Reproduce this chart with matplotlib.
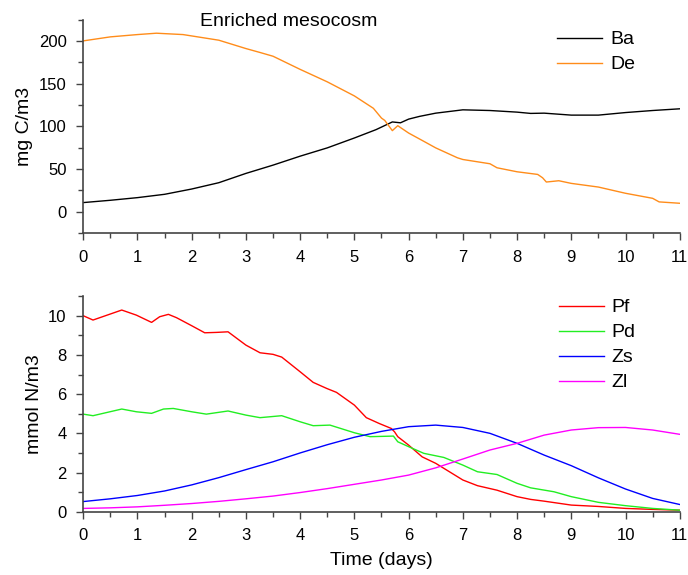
import matplotlib
matplotlib.use("Agg")
import matplotlib.pyplot as plt
from matplotlib.ticker import MultipleLocator

plt.rcParams['font.family'] = ['Liberation Sans', 'DejaVu Sans']

# ---- data (top panel, mg C/m3) ----
t_ba = [0, 0.5, 1, 1.5, 2, 2.5, 3, 3.5, 4, 4.5, 5, 5.4, 5.7, 5.85, 6, 6.2, 6.5,
        7, 7.5, 8, 8.25, 8.5, 9, 9.5, 10, 10.5, 11]
ba = [10.5, 13.2, 16.3, 20.2, 26.4, 33.8, 44.7, 54.4, 64.9, 74.6, 86.2, 96, 105,
      104, 108.3, 111.5, 115.3, 119.2, 118.4, 116.5, 115, 115.3, 113, 113, 116,
      118.4, 120.4]
t_de = [0, 0.5, 1, 1.35, 1.5, 1.84, 2, 2.5, 3, 3.26, 3.5, 4, 4.5, 5, 5.35, 5.5,
        5.56, 5.7, 5.8, 6, 6.28, 6.5, 6.9, 7, 7.5, 7.63, 8, 8.38, 8.47, 8.54,
        8.77, 9, 9.5, 10, 10.5, 10.62, 11]
de = [200, 204.7, 207.4, 209, 208.5, 207.4, 205.8, 200.8, 191, 186.4, 182,
      166.6, 152, 135.5, 121, 109.5, 106.8, 94.8, 100.6, 92, 82.3, 74.6, 63, 61,
      56, 51.3, 46.6, 43.5, 39.6, 34.6, 36.1, 33, 28.7, 21.4, 15.5, 11.3, 9.7]

# ---- data (bottom panel, mmol N/m3) ----
t_pf = [0, 0.18, 0.71, 0.98, 1.26, 1.41, 1.57, 1.72, 2, 2.24, 2.46, 2.67, 3,
        3.26, 3.5, 3.66, 4, 4.24, 4.49, 4.67, 5, 5.22, 5.46, 5.68, 5.74, 5.8, 6,
        6.25, 6.5, 6.7, 7, 7.27, 7.63, 8, 8.25, 8.5, 9, 9.5, 10, 10.5, 11]
pf = [10, 9.78, 10.29, 10.03, 9.66, 9.95, 10.07, 9.9, 9.49, 9.13, 9.15, 9.18,
      8.5, 8.11, 8.03, 7.89, 7.14, 6.6, 6.29, 6.09, 5.44, 4.8, 4.5, 4.25, 4.08,
      3.83, 3.4, 2.8, 2.47, 2.13, 1.62, 1.33, 1.1, 0.77, 0.63, 0.54, 0.34, 0.27,
      0.17, 0.12, 0.08]
t_pd = [0, 0.18, 0.71, 0.98, 1.26, 1.48, 1.66, 2, 2.27, 2.67, 3, 3.26, 3.66, 4,
        4.24, 4.55, 5, 5.29, 5.72, 5.8, 6, 6.28, 6.65, 7, 7.27, 7.63, 8, 8.25,
        8.68, 9, 9.5, 10, 10.5, 11]
pd_ = [4.98, 4.9, 5.24, 5.1, 5.02, 5.24, 5.27, 5.1, 4.98, 5.14, 4.93, 4.8, 4.9,
       4.59, 4.39, 4.42, 4.03, 3.83, 3.86, 3.57, 3.32, 2.98, 2.77, 2.38, 2.04,
       1.9, 1.45, 1.22, 1.02, 0.77, 0.48, 0.31, 0.17, 0.08]
t_zs = [0, 0.5, 1, 1.5, 2, 2.5, 3, 3.5, 4, 4.5, 5, 5.5, 6, 6.5, 7, 7.5, 8, 8.5,
        9, 9.5, 10, 10.5, 11]
zs = [0.52, 0.66, 0.83, 1.06, 1.37, 1.74, 2.15, 2.55, 3.0, 3.42, 3.8, 4.1, 4.34,
      4.42, 4.3, 4.0, 3.49, 2.89, 2.35, 1.73, 1.16, 0.68, 0.37]
t_zl = [0, 0.5, 1, 1.5, 2, 2.5, 3, 3.5, 4, 4.5, 5, 5.5, 6, 6.5, 7, 7.5, 8, 8.5,
        9, 9.5, 10, 10.5, 11]
zl = [0.17, 0.2, 0.25, 0.33, 0.42, 0.53, 0.66, 0.8, 0.98, 1.18, 1.4, 1.62, 1.87,
      2.24, 2.69, 3.15, 3.49, 3.91, 4.17, 4.29, 4.3, 4.17, 3.95]

xticks = list(range(0, 12))

fig = plt.figure(figsize=(6.88, 5.75), dpi=100)
ax1 = fig.add_axes([0.121, 0.595, 0.867, 0.371])
ax2 = fig.add_axes([0.121, 0.110, 0.867, 0.375])

spine_col = '#444444'
for ax in (ax1, ax2):
    for s in ('top', 'right'):
        ax.spines[s].set_visible(False)
    for s in ('left', 'bottom'):
        ax.spines[s].set_color(spine_col)
        ax.spines[s].set_linewidth(1.2)
    ax.set_xlim(0, 11)
    ax.set_xticks(xticks)
    ax.xaxis.set_minor_locator(MultipleLocator(0.5))
    ax.tick_params(which='major', direction='out', length=5, width=1,
                   color=spine_col, labelsize=12, pad=7)
    ax.tick_params(which='minor', direction='out', length=3.5, width=1,
                   color=spine_col)

lw = 1.0
ax1.plot(t_ba, ba, color='black', lw=lw, label='Ba')
ax1.plot(t_de, de, color='#ff8c1a', lw=lw, label='De')
ax1.set_ylim(-25, 225)
ax1.set_yticks([0, 50, 100, 150, 200])
ax1.yaxis.set_minor_locator(MultipleLocator(25))
ax1.set_ylabel('mg C/m3', fontsize=14)

ax2.plot(t_pf, pf, color='#ff0000', lw=lw, label='Pf')
ax2.plot(t_pd, pd_, color='#22ee22', lw=lw, label='Pd')
ax2.plot(t_zs, zs, color='#0000ff', lw=lw, label='Zs')
ax2.plot(t_zl, zl, color='#ff00ff', lw=lw, label='Zl')
ax2.set_ylim(0, 11)
ax2.set_yticks([0, 2, 4, 6, 8, 10])
ax2.yaxis.set_minor_locator(MultipleLocator(1))
ax2.set_ylabel('mmol N/m3', fontsize=14)
ax2.set_xlabel('Time (days)', fontsize=14, labelpad=6)

leg_kw = dict(frameon=False, fontsize=14, handlelength=2.3, handletextpad=0.4,
              labelspacing=0.38, borderpad=0, borderaxespad=0, loc='upper left')
ax1.legend(bbox_to_anchor=(0.795, 0.947), **leg_kw)
ax2.legend(bbox_to_anchor=(0.798, 0.988), **leg_kw)

fig.text(200 / 688, 1 - 21 / 575, 'Enriched mesocosm', fontsize=14,
         ha='left', va='center')

fig.savefig('out.png', dpi=100)
